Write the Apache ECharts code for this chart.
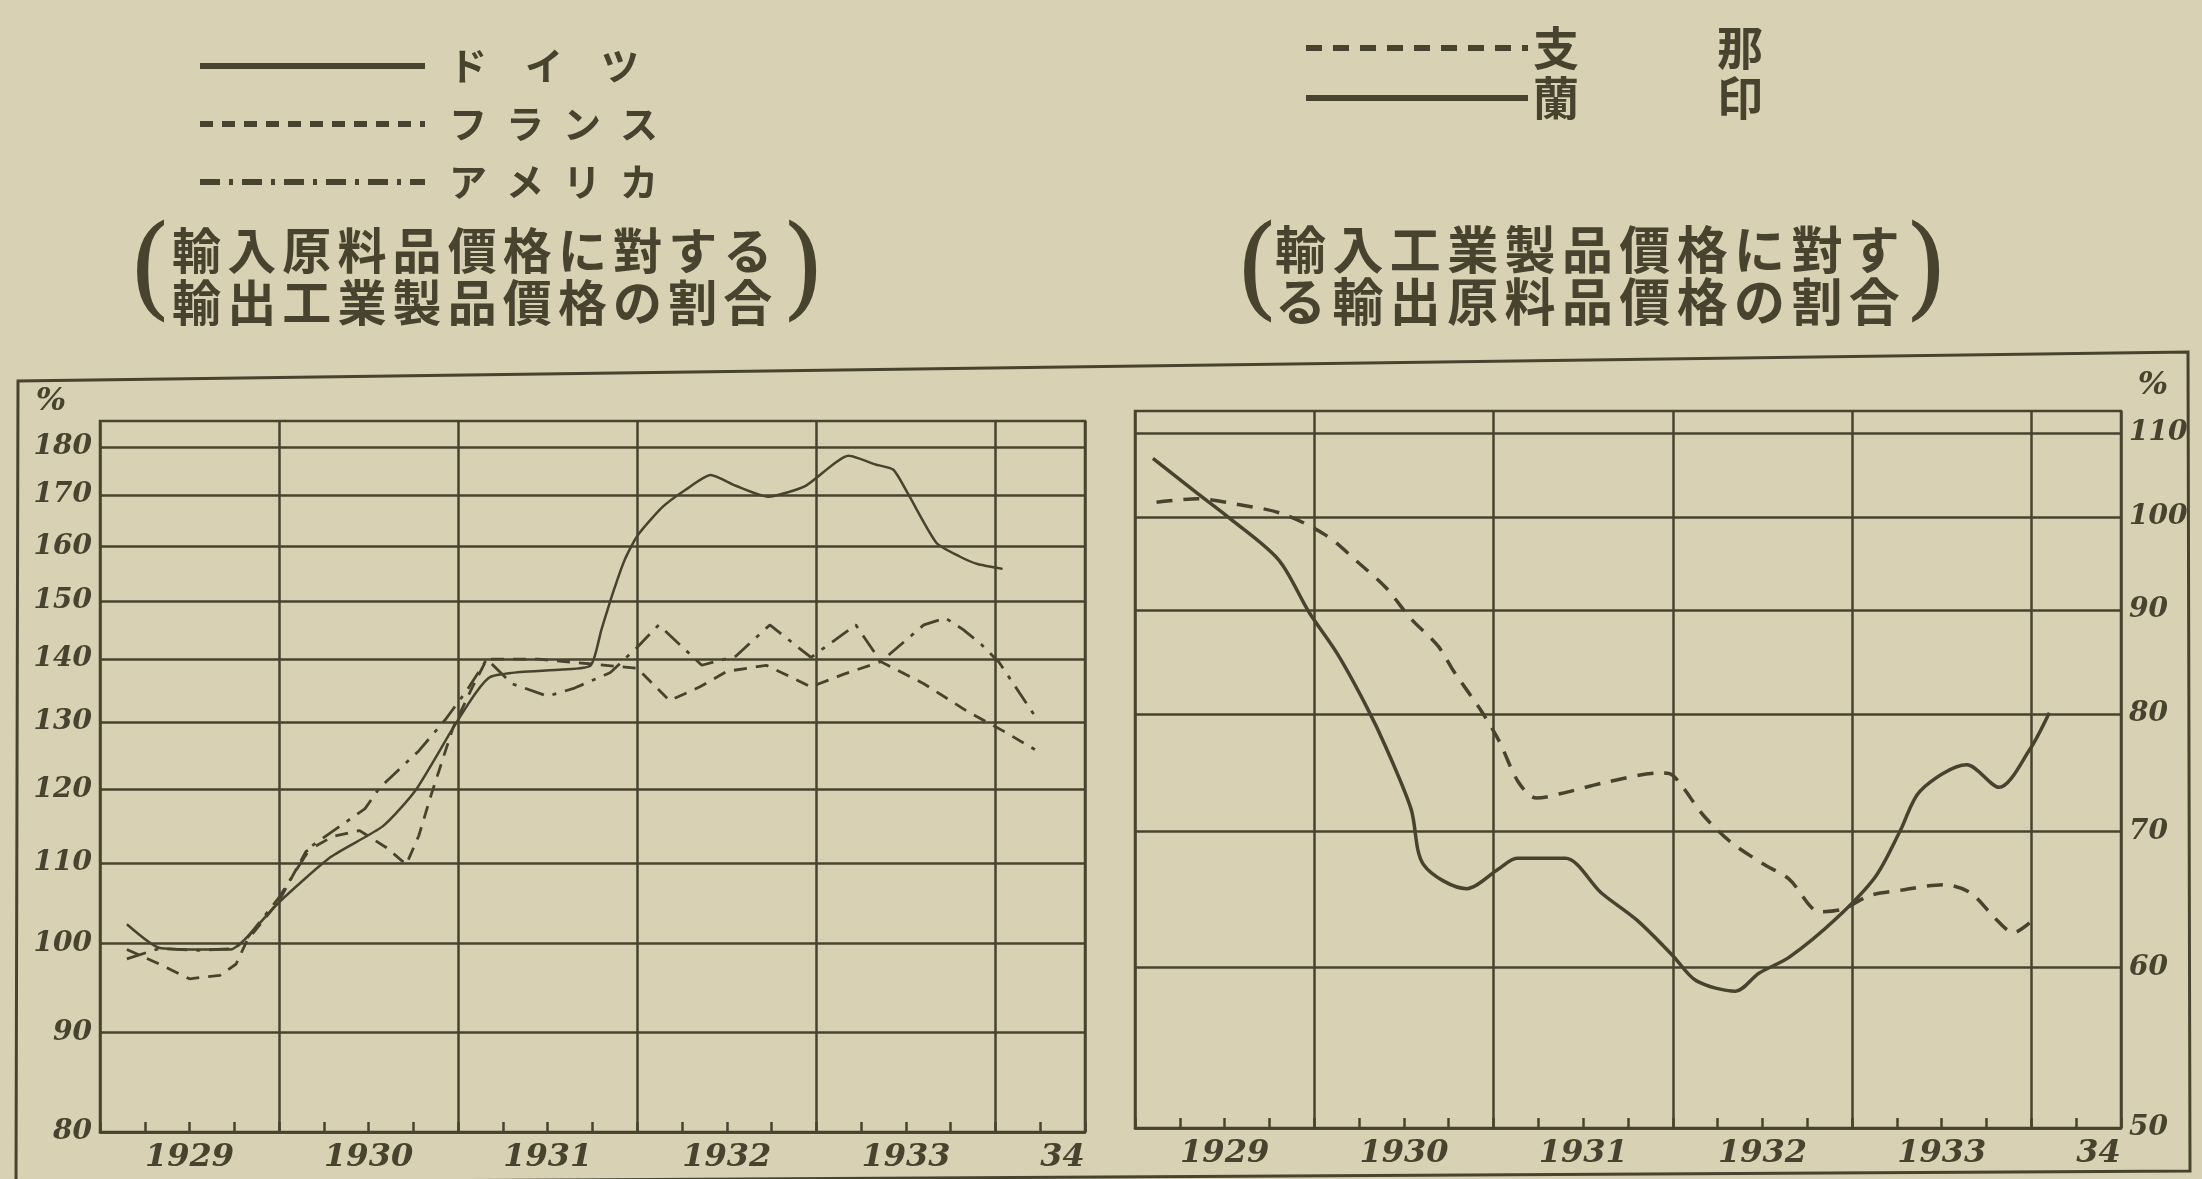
<!DOCTYPE html>
<html><head><meta charset="utf-8">
<script src="https://cdn.jsdelivr.net/npm/echarts@6/dist/echarts.min.js"></script>
<style>html,body{margin:0;padding:0;background:#d9d1b3;}#c{width:2202px;height:1179px;}</style>
</head><body><div id="c"></div>
<script>
// ---- data ----
const germanyYear = [1929.15,1929.33,1929.55,1929.73,1929.8,1930.0,1930.29,1930.58,1930.76,1930.97,1931.1,1931.18,1931.35,1931.58,1931.74,1931.8,1931.87,1931.93,1932.0,1932.14,1932.27,1932.41,1932.55,1932.73,1932.94,1933.18,1933.33,1933.43,1933.51,1933.67,1933.8,1933.9,1934.04];
const germanyVal  = [102.3,99.5,99.3,99.3,100.3,105,110.8,114.9,119.8,129,134.6,137.1,137.9,138.3,139,145,152,157.5,162,167.6,171.1,174.1,171.9,169.7,171.9,178.1,176.3,175.2,170.4,160.7,158.1,156.7,155.8];

const franceYear = [1929.15,1929.33,1929.5,1929.67,1929.76,1929.82,1930.0,1930.15,1930.3,1930.45,1930.6,1930.71,1930.78,1930.85,1930.97,1931.08,1931.16,1931.45,1931.75,1932.0,1932.18,1932.35,1932.5,1932.72,1932.97,1933.15,1933.36,1933.6,1933.85,1934.05,1934.22];
const franceVal  = [99.3,97.6,95.9,96.3,97.6,100.3,105.2,111.5,113.5,114.3,112,109.8,113.6,119.3,129,135.5,140,140,139.2,138.5,133.3,135.5,138,139,135.5,137.5,139.6,136,131.5,128.5,125.8];

const americaYear = [1929.15,1929.33,1929.55,1929.75,1929.82,1930.0,1930.18,1930.48,1930.56,1930.78,1930.93,1931.05,1931.16,1931.3,1931.5,1931.65,1931.85,1932.0,1932.12,1932.36,1932.55,1932.74,1932.97,1933.22,1933.36,1933.6,1933.72,1933.82,1933.92,1934.02,1934.23];
const americaVal  = [98.2,99.4,99.2,99.4,100.6,105.6,112.2,117.3,120.2,125.6,130.4,135,140,136,134,135.3,137.8,142,145.8,139,140.5,145.8,140.3,145.8,139.6,145.8,147,145,142.5,139.5,130.5];

const chinaYear = [1929.12,1929.35,1929.56,1929.82,1930.07,1930.25,1930.4,1930.54,1930.69,1930.78,1930.93,1931.03,1931.14,1931.24,1931.41,1931.62,1931.93,1932.0,1932.17,1932.32,1932.5,1932.65,1932.82,1932.95,1933.1,1933.28,1933.51,1933.66,1933.8,1933.9,1933.99];
const chinaVal  = [101.7,102.1,101.5,100.4,97.9,94.9,92.3,89.1,86.4,83.9,80.3,77.6,74,72.7,73.2,74,74.8,74.6,71.3,69.2,67.5,66.3,63.9,64.1,65.1,65.5,65.9,65.3,63.4,62.4,63.1];

const indiaYear = [1929.1,1929.35,1929.52,1929.8,1929.97,1930.13,1930.29,1930.4,1930.54,1930.61,1930.85,1931.03,1931.13,1931.4,1931.6,1931.8,1932.0,1932.13,1932.35,1932.48,1932.65,1932.91,1933.13,1933.27,1933.38,1933.64,1933.82,1933.99,1934.1];
const indiaVal  = [106.9,102.7,100,95.3,89.8,85.6,80.7,77,71.8,67.4,65.6,67.1,67.9,67.9,65.3,63.3,60.8,59.1,58.4,59.6,60.7,63.4,66.5,70.1,73.3,75.5,73.6,76.8,80.1];

const leftTicks  = [80,90,100,110,120,130,140,150,160,170,180];
const rightTicks = [50,60,70,80,90,100,110];
const yearLabels = ['1929','1930','1931','1932','1933','34'];

const leftNames  = ['ドイツ','フランス','アメリカ'];
const rightNames = ['支那','蘭印'];
const captionLeft  = ['輸入原料品價格に對する','輸出工業製品價格の割合'];
const captionRight = ['輸入工業製品價格に對す','る輸出原料品價格の割合'];

// ---- styling ----
const INK = '#47432f';
const BG = '#d9d1b3';
const NUMFONT = 'DejaVu Serif';
const JP = '"Noto Sans CJK JP"';

const pts = (xs, ys) => xs.map((x, i) => [x, ys[i]]);
const spaced = s => Array.from(s).join('\u200A\u200A');

function gridLines(values, pos) {
  return {
    silent: true, animation: false, symbol: ['none', 'none'],
    lineStyle: { color: INK, width: 2.5, type: 'solid' },
    label: { show: true, position: pos, distance: 8, formatter: p => String(p.value),
      color: INK, fontFamily: NUMFONT, fontStyle: 'italic', fontWeight: 'bold', fontSize: 28 },
    emphasis: { disabled: true },
    data: values.map(v => ({ yAxis: v }))
  };
}

function xLabel(v) {
  const frac = Math.round((v - Math.floor(v)) * 1000) / 1000;
  if (Math.abs(v - 1934.375) < 1e-6) return yearLabels[5];
  if (frac === 0.5 && v < 1934) return yearLabels[Math.floor(v) - 1929];
  return '';
}

function xAxes(g) {
  const base = { gridIndex: g, type: 'value', min: 1929, max: 1934.5, position: 'bottom' };
  return [
    Object.assign({}, base, { interval: 1,
      axisLine: { show: true, lineStyle: { color: INK, width: 2.5 } },
      axisTick: { show: false }, axisLabel: { show: false },
      splitLine: { show: true, lineStyle: { color: INK, width: 2.5, type: 'solid' } } }),
    Object.assign({}, base, { interval: 0.25,
      axisLine: { show: false },
      axisTick: { show: true, inside: true, length: 10, lineStyle: { color: INK, width: 2.5 } },
      axisLabel: { show: false }, splitLine: { show: false } }),
    Object.assign({}, base, { interval: 0.125,
      axisLine: { show: false }, axisTick: { show: false }, splitLine: { show: false },
      axisLabel: { show: true, formatter: xLabel, margin: 10, color: INK,
        fontFamily: NUMFONT, fontStyle: 'italic', fontWeight: 'bold', fontSize: 32 } })
  ];
}

const legendText = {
  'ドイツ': '\u2002ド\u3000イ\u3000ツ',
  'フランス': '\u2002フ\u2002ラ\u2002ン\u2002ス',
  'アメリカ': '\u2002ア\u2002メ\u2002リ\u2002カ',
  '支那': '支\u3000\u3000\u3000那',
  '蘭印': '蘭\u3000\u3000\u3000印'
};

function txt(x, y, text, font, align) {
  return { type: 'text', silent: true, z: 10,
    style: { x: x, y: y, text: text, font: font, fill: INK, align: align || 'left', verticalAlign: 'middle' } };
}

const chart = echarts.init(document.getElementById('c'), null, { renderer: 'canvas' });
chart.setOption({
  backgroundColor: BG,
  animation: false,
  grid: [
    { left: 100, top: 421, width: 985, height: 711, show: true, borderColor: INK, borderWidth: 2.5, backgroundColor: 'transparent', containLabel: false, outerBoundsMode: 'none' },
    { left: 1135, top: 411, width: 986, height: 717, show: true, borderColor: INK, borderWidth: 2.5, backgroundColor: 'transparent', containLabel: false, outerBoundsMode: 'none' }
  ],
  xAxis: xAxes(0).concat(xAxes(1)),
  yAxis: [
    { gridIndex: 0, type: 'log', logBase: 10, min: 80, max: 185.6, position: 'left',
      axisLine: { show: false }, axisTick: { show: false }, axisLabel: { show: false }, splitLine: { show: false } },
    { gridIndex: 1, type: 'log', logBase: 10, min: 50, max: 112.8, position: 'right',
      axisLine: { show: false }, axisTick: { show: false }, axisLabel: { show: false }, splitLine: { show: false } }
  ],
  legend: [
    { orient: 'vertical', left: 192, top: 38, itemWidth: 225, itemHeight: 14, itemGap: 12,
      selectedMode: false, data: leftNames, formatter: n => legendText[n],
      textStyle: { fontFamily: JP, fontWeight: 'bold', fontSize: 38, lineHeight: 46, color: INK },
      lineStyle: { width: 6 }, itemStyle: { opacity: 0 } },
    { orient: 'vertical', left: 1298, top: 20, itemWidth: 222, itemHeight: 14, itemGap: 4,
      selectedMode: false, data: rightNames, formatter: n => legendText[n],
      textStyle: { fontFamily: JP, fontWeight: 'bold', fontSize: 46, lineHeight: 46, color: INK },
      lineStyle: { width: 6 }, itemStyle: { opacity: 0 } }
  ],
  series: [
    { name: leftNames[0], type: 'line', xAxisIndex: 0, yAxisIndex: 0, data: pts(germanyYear, germanyVal),
      symbol: 'none', smooth: 0.2, lineStyle: { color: INK, width: 2.5, type: 'solid' }, itemStyle: { color: INK },
      markLine: gridLines(leftTicks, 'start'), z: 3 },
    { name: leftNames[1], type: 'line', xAxisIndex: 0, yAxisIndex: 0, data: pts(franceYear, franceVal),
      symbol: 'none', lineStyle: { color: INK, width: 2.8, type: [13, 9] }, itemStyle: { color: INK }, z: 3 },
    { name: leftNames[2], type: 'line', xAxisIndex: 0, yAxisIndex: 0, data: pts(americaYear, americaVal),
      symbol: 'none', lineStyle: { color: INK, width: 2.8, type: [20, 9, 4, 9] }, itemStyle: { color: INK }, z: 3 },
    { name: rightNames[0], type: 'line', xAxisIndex: 3, yAxisIndex: 1, data: pts(chinaYear, chinaVal),
      symbol: 'none', smooth: 0.3, lineStyle: { color: INK, width: 3.5, type: [16, 11] }, itemStyle: { color: INK },
      markLine: gridLines(rightTicks, 'end'), z: 3 },
    { name: rightNames[1], type: 'line', xAxisIndex: 3, yAxisIndex: 1, data: pts(indiaYear, indiaVal),
      symbol: 'none', smooth: 0.3, lineStyle: { color: INK, width: 3.5, type: 'solid' }, itemStyle: { color: INK }, z: 3 }
  ],
  graphic: [
    { type: 'polyline', silent: true, z: 1,
      shape: { points: [[16, 1190], [18, 381], [2188, 352], [2190, 1171], [18, 1183]] },
      style: { stroke: INK, lineWidth: 3, fill: null } },
    txt(150, 276, '(', '112px "DejaVu Serif"', 'center'),
    txt(172, 250, spaced(captionLeft[0]), 'bold 49px ' + JP),
    txt(172, 302, spaced(captionLeft[1]), 'bold 49px ' + JP),
    txt(803, 276, ')', '112px "DejaVu Serif"', 'center'),
    txt(1257, 276, '(', '112px "DejaVu Serif"', 'center'),
    txt(1275, 250, spaced(captionRight[0]), 'bold 51px ' + JP),
    txt(1275, 302, spaced(captionRight[1]), 'bold 51px ' + JP),
    txt(1926, 276, ')', '112px "DejaVu Serif"', 'center'),
    txt(51, 402, '%', 'italic bold 32px "DejaVu Serif"', 'center'),
    txt(2153, 386, '%', 'italic bold 32px "DejaVu Serif"', 'center')
  ]
});
</script>
</body></html>
